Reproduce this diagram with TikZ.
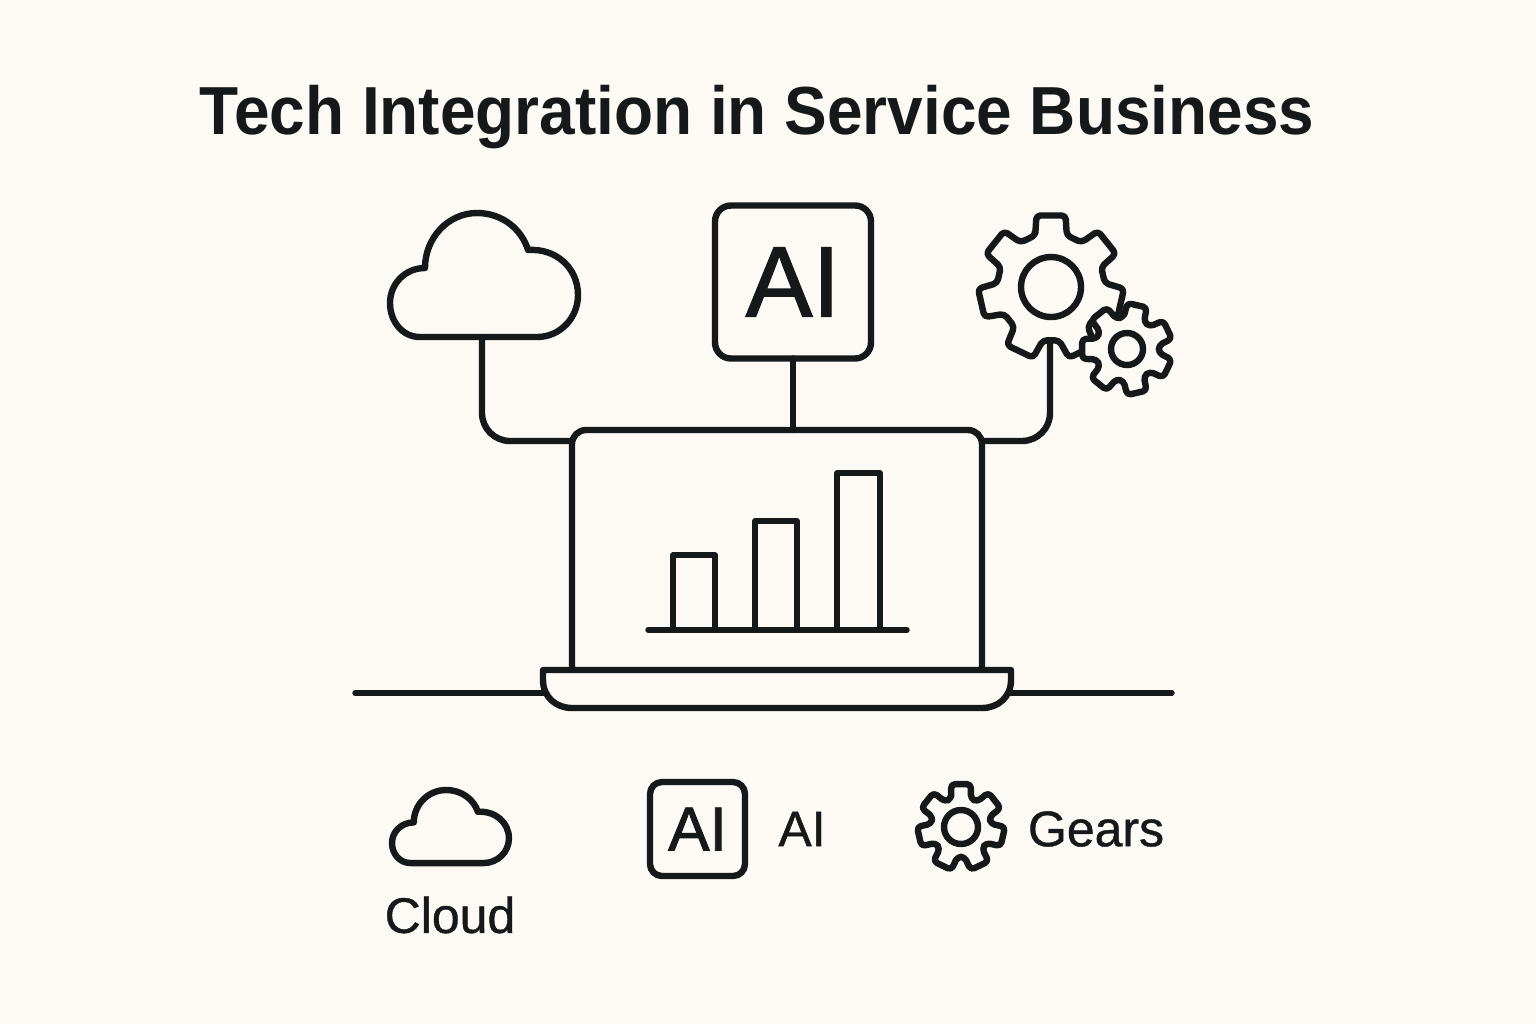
\documentclass[tikz,border=0pt]{standalone}
\usepackage{fontspec}
\setmainfont{Liberation Sans}
\newfontfamily\medfont[FakeBold=0.8]{Liberation Sans}
\newfontfamily\bigfont[FakeBold=1.4]{Liberation Sans}
\newfontfamily\titlefont[FakeStretch=0.94]{Liberation Sans Bold}
\definecolor{bgc}{HTML}{FDFAF5}
\definecolor{ink}{HTML}{15191A}
\newcommand{\mygear}[9]{% style cx cy rin rout teeth start dIn dOut
  \pgfmathsetmacro{\gstep}{360/#6}
  \pgfmathtruncatemacro{\glast}{#6-1}
  \path[#1] ({#2+#4*cos(#7+#8)},{#3-#4*sin(#7+#8)})
    \foreach \k in {0,...,\glast}{
      \pgfextra{\pgfmathsetmacro{\ga}{#7-\k*\gstep}}
      -- ({#2+#4*cos(\ga+#8)},{#3-#4*sin(\ga+#8)})
      -- ({#2+#5*cos(\ga+#9)},{#3-#5*sin(\ga+#9)})
      -- ({#2+#5*cos(\ga-#9)},{#3-#5*sin(\ga-#9)})
      -- ({#2+#4*cos(\ga-#8)},{#3-#4*sin(\ga-#8)})
    } -- cycle;
}
\newcommand{\cloudpath}{(420,337) .. controls (402,337) and (390,321) .. (390,303)
  .. controls (390,284) and (405,268) .. (425,268)
  .. controls (425,238) and (448,213) .. (477,213)
  .. controls (503,213) and (522,230) .. (528,250)
  .. controls (556,248) and (578,268) .. (578,295)
  .. controls (578,318) and (560,337) .. (537,337) -- cycle}
\tikzset{
  ln/.style={draw=ink,line width=3.2pt,line join=round,line cap=round},
  thin ln/.style={draw=ink,line width=2.7pt,line cap=round,line join=round},
  gearln/.style={draw=ink,fill=bgc,line width=3.2pt,line join=round,rounded corners=2pt},
  lbl/.style={text=ink,inner sep=0pt,font=\medfont\fontsize{25}{28}\selectfont},
  aibox/.style={draw=ink,fill=bgc,line width=3.2pt,rounded corners=8pt,outer sep=0pt,inner sep=0pt},
}
\begin{document}
\begin{tikzpicture}[x=0.5pt,y=-0.5pt]
\useasboundingbox (0,0) rectangle (1536,1024);
\fill[bgc] (0,0) rectangle (1536,1024);
\node[text=ink,inner sep=0pt,font=\titlefont\fontsize{34}{40}\selectfont] (title) at (757,117) {Tech Integration in Service Business};

% named anchors
\coordinate (cloudb) at (482,337);
\coordinate (gearb) at (1050,342);
\coordinate (scrL) at (572,441);
\coordinate (scrR) at (982,441);
\coordinate (gndA) at (355,693);
\coordinate (gndB) at (545,693);
\coordinate (gndC) at (1010,693);
\coordinate (gndD) at (1172,693);

% ground
\draw[thin ln] (gndA) -- (gndB);
\draw[thin ln] (gndC) -- (gndD);

% cloud
\draw[ln,fill=bgc] \cloudpath;

% AI box
\node[aibox,minimum width=78pt,minimum height=76.5pt,font=\bigfont\fontsize{50}{54}\selectfont,text=ink] (ai) at (793,282) {AI};

% screen
\node[draw=ink,line width=3.2pt,rounded corners=7pt,outer sep=0pt,inner sep=0pt,minimum width=205pt,minimum height=125pt] (screen) at (777,555) {};

% connectors
\draw[ln,rounded corners=14pt] (cloudb) |- (scrL);
\draw[ln] (ai.south) -- (ai.south |- screen.north);
\draw[ln,rounded corners=14pt] (gearb) |- (scrR);

% gears
\mygear{gearln}{1051}{287}{54}{73}{7}{90}{17}{11.5}
\draw[ln] (1051,287) circle (30);
\draw[ln] (gearb) -- (1050,360);
\mygear{gearln}{1127}{349}{32}{46}{7}{77}{19}{12.5}
\draw[ln] (1127,349) circle (16);

% bars
\draw[thin ln] (673,630) -- (673,555) -- (715,555) -- (715,630);
\draw[thin ln] (755,630) -- (755,521) -- (797,521) -- (797,630);
\draw[thin ln] (837,630) -- (837,473) -- (880,473) -- (880,630);
\draw[thin ln] (648,630) -- (907,630);

% laptop base
\coordinate (baseA) at (543,670);
\coordinate (baseB) at (1011,670);
\draw[ln,fill=bgc] (baseA) -- (baseB) -- (1011,680) .. controls (1011,697) and (998,708) .. (982,708)
  -- (572,708) .. controls (556,708) and (543,697) .. (543,680) -- cycle;

% legend
\begin{scope}[shift={(392,790)},xscale=.622,yscale=.589,shift={(-390,-213)}]
\draw[ln,fill=bgc] \cloudpath;
\end{scope}
\node[lbl] (lcloud) at (450,915) {Cloud};
\node[aibox,rounded corners=6pt,minimum width=47.5pt,minimum height=47pt,font=\bigfont\fontsize{31}{34}\selectfont,text=ink] (lai) at (697.5,829) {AI};
\node[lbl] (lailbl) at (802,829) {AI};
\mygear{gearln}{961}{827}{30}{44}{7}{90}{19}{13}
\draw[ln] (961,827) circle (17);
\node[lbl] (lgears) at (1096,829) {Gears};
\end{tikzpicture}
\end{document}
